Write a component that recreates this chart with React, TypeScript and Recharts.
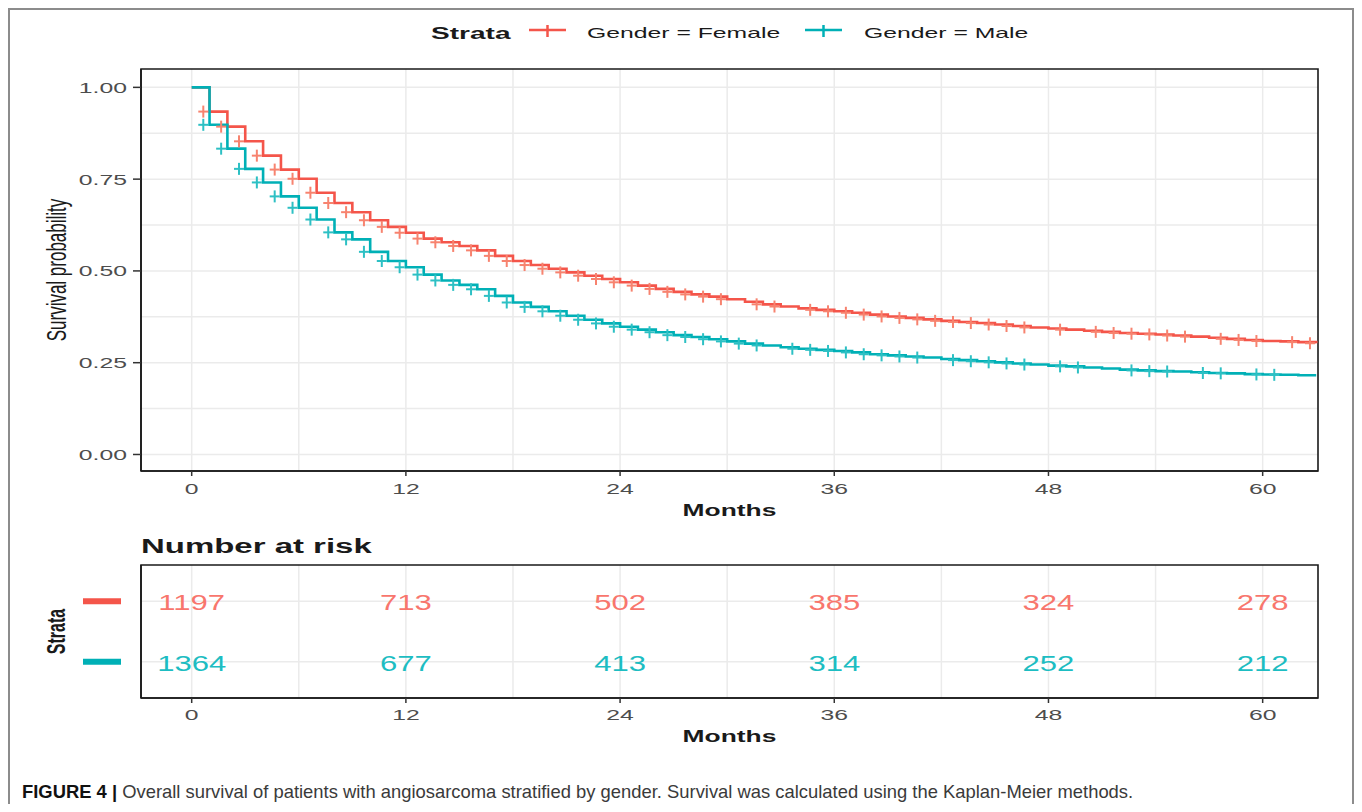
import React from 'react';
import { ComposedChart, Line, Scatter, XAxis, YAxis, CartesianGrid, ReferenceArea } from 'recharts';

// survival probability at the start of each month (0..63)
const femaleSurv = [
  1.0, 0.934, 0.893, 0.853, 0.814, 0.776, 0.751, 0.713, 0.685, 0.66, 0.638, 0.62, 0.604, 0.588, 0.578, 0.568,
  0.556, 0.541, 0.527, 0.516, 0.506, 0.496, 0.487, 0.478, 0.469, 0.46, 0.451, 0.443, 0.436, 0.43, 0.423, 0.416,
  0.409, 0.403, 0.398, 0.394, 0.39, 0.386, 0.381, 0.376, 0.372, 0.368, 0.364, 0.361, 0.358, 0.354, 0.35, 0.346,
  0.343, 0.34, 0.337, 0.334, 0.331, 0.329, 0.327, 0.324, 0.321, 0.318, 0.315, 0.312, 0.309, 0.308, 0.306, 0.303,
];
const maleSurv = [
  1.0, 0.898, 0.833, 0.778, 0.741, 0.703, 0.672, 0.64, 0.605, 0.586, 0.552, 0.527, 0.51, 0.49, 0.474, 0.462,
  0.45, 0.432, 0.414, 0.402, 0.39, 0.378, 0.367, 0.357, 0.348, 0.34, 0.333, 0.325, 0.32, 0.314, 0.308, 0.302,
  0.297, 0.292, 0.288, 0.285, 0.282, 0.278, 0.273, 0.27, 0.267, 0.264, 0.26, 0.257, 0.254, 0.251, 0.248, 0.245,
  0.242, 0.24, 0.237, 0.234, 0.231, 0.229, 0.227, 0.226, 0.224, 0.222, 0.221, 0.219, 0.218, 0.217, 0.216, 0.216,
];

// months that carry a censor mark
const femaleCensorMonths = [
  1, 2, 3, 4, 5, 6, 7, 8, 9, 10, 11, 12, 13, 14, 15, 16, 17, 18, 19, 20, 21, 22, 23, 24, 25, 26, 27, 28, 29, 30,
  32, 33, 35, 36, 37, 38, 39, 40, 41, 42, 43, 44, 45, 46, 47, 49, 51, 52, 53, 54, 55, 56, 58, 59, 60, 62, 63,
];
const maleCensorMonths = [
  1, 2, 3, 4, 5, 6, 7, 8, 9, 10, 11, 12, 13, 14, 15, 16, 17, 18, 19, 20, 21, 22, 23, 24, 25, 26, 27, 28, 29, 30,
  31, 32, 34, 35, 36, 37, 38, 39, 40, 41, 43, 44, 45, 46, 47, 49, 50, 53, 54, 55, 57, 58, 60, 61,
];

const riskTimes = [0, 12, 24, 36, 48, 60];
const femaleRisk = [1197, 713, 502, 385, 324, 278];
const maleRisk = [1364, 677, 413, 314, 252, 212];

const xTicks = [0, 12, 24, 36, 48, 60];
const xGrid = [0, 6, 12, 18, 24, 30, 36, 42, 48, 54, 60];
const yTicks = [0, 0.25, 0.5, 0.75, 1];
const yGrid = [0, 0.125, 0.25, 0.375, 0.5, 0.625, 0.75, 0.875, 1];
const strataLabels = ['Gender = Female', 'Gender = Male'];

const X_MIN = -2.84;
const X_MAX = 63.1;
const Y_MIN = -0.045;
const Y_MAX = 1.05;
const CENSOR_LEAD = 0.35;

const RED = '#F4554A';
const TEAL = '#00B0B6';
const RED_MARK = '#F7836F';
const TEAL_MARK = '#2DC0C4';
const RED_TEXT = '#F8766D';
const TEAL_TEXT = '#1DBDC2';
const GRID = '#EBEBEB';
const DARK = '#1a1a1a';
const FONT = "'Liberation Sans', Arial, sans-serif";
const SX = 1.65; // the original figure is stretched sideways

const curveData = femaleSurv.map((s, i) => ({ t: i, female: s, male: maleSurv[i] }));
const femaleCensor = femaleCensorMonths.map((m) => ({ t: m - CENSOR_LEAD, s: femaleSurv[m] }));
const maleCensor = maleCensorMonths.map((m) => ({ t: m - CENSOR_LEAD, s: maleSurv[m] }));
const femaleRiskData = riskTimes.map((t, i) => ({ t, row: 2, n: femaleRisk[i] }));
const maleRiskData = riskTimes.map((t, i) => ({ t, row: 1, n: maleRisk[i] }));

const StretchText = ({ x, y, size, weight = 'normal', fill = DARK, anchor = 'start', sx = SX, children }: any) => (
  <g transform={`translate(${x},${y}) scale(${sx},1)`}>
    <text x={0} y={0} fontSize={size} fontWeight={weight} fill={fill} textAnchor={anchor} fontFamily={FONT}>
      {children}
    </text>
  </g>
);

const XTick = ({ x, y, payload, shift }: any) => (
  <StretchText x={x} y={y + shift} size={15} fill="#4d4d4d" anchor="middle">
    {payload.value}
  </StretchText>
);

const YTick = ({ x, y, payload }: any) => (
  <StretchText x={x} y={y + 5.5} size={15} fill="#4d4d4d" anchor="end">
    {Number(payload.value).toFixed(2)}
  </StretchText>
);

const StrataTick = ({ x, y, payload }: any) => (
  <line x1={x - 58} x2={x - 20} y1={y} y2={y} stroke={payload.value === 2 ? RED : TEAL} strokeWidth={6} />
);

const XTitle = ({ viewBox, text, shift }: any) => (
  <StretchText x={viewBox.x + viewBox.width / 2} y={viewBox.y + shift} size={16} weight="bold" anchor="middle">
    {text}
  </StretchText>
);

const YTitle = ({ viewBox, text, shift, size, weight }: any) => (
  <g transform={`translate(${viewBox.x + shift},${viewBox.y + viewBox.height / 2}) scale(${SX},1) rotate(-90)`}>
    <text x={0} y={0} dy="0.35em" textAnchor="middle" fontSize={size} fontWeight={weight} fill={DARK} fontFamily={FONT}>
      {text}
    </text>
  </g>
);

const plusShape = (color: string) => (props: any) => {
  const { cx, cy } = props;
  return (
    <g stroke={color} strokeWidth={2}>
      <line x1={cx - 5} x2={cx + 5} y1={cy} y2={cy} />
      <line x1={cx} x2={cx} y1={cy - 6} y2={cy + 6} />
    </g>
  );
};

const riskShape = (color: string) => (props: any) => (
  <StretchText x={props.cx} y={props.cy + 9} size={22.5} sx={1.38} fill={color} anchor="middle">
    {props.payload.n}
  </StretchText>
);

const LegendKey = ({ x, y, color }: any) => (
  <g stroke={color} strokeWidth={2.5}>
    <line x1={x} x2={x + 37} y1={y} y2={y} />
    <line x1={x + 18.5} x2={x + 18.5} y1={y - 5} y2={y + 7} />
  </g>
);

const SurvivalPlot = () => (
  <ComposedChart width={1362} height={530} data={curveData} margin={{ top: 69, right: 44, bottom: 9, left: 41 }}>
    <CartesianGrid verticalValues={xGrid} horizontalValues={yGrid} stroke={GRID} strokeWidth={1.5} />
    <ReferenceArea x1={X_MIN} x2={X_MAX} y1={Y_MIN} y2={Y_MAX} fill="none" stroke={DARK} strokeWidth={1.6} ifOverflow="visible" />
    <XAxis
      dataKey="t"
      type="number"
      domain={[X_MIN, X_MAX]}
      allowDataOverflow
      ticks={xTicks}
      height={50}
      tickSize={5}
      tickMargin={2}
      axisLine={{ stroke: DARK, strokeWidth: 1.6 }}
      tickLine={{ stroke: '#333', strokeWidth: 1.5 }}
      tick={<XTick shift={16} />}
      label={<XTitle text="Months" shift={45} />}
    />
    <YAxis
      type="number"
      domain={[Y_MIN, Y_MAX]}
      allowDataOverflow
      ticks={yTicks}
      width={100}
      tickSize={8}
      tickMargin={6}
      axisLine={{ stroke: DARK, strokeWidth: 1.6 }}
      tickLine={{ stroke: '#333', strokeWidth: 1.5 }}
      tick={<YTick />}
      label={<YTitle text="Survival probability" shift={15.5} size={17} weight="normal" />}
    />
    <Line type="stepAfter" dataKey="female" name={strataLabels[0]} stroke={RED} strokeWidth={2.6} dot={false} activeDot={false} isAnimationActive={false} />
    <Line type="stepAfter" dataKey="male" name={strataLabels[1]} stroke={TEAL} strokeWidth={2.6} dot={false} activeDot={false} isAnimationActive={false} />
    <Scatter data={femaleCensor} dataKey="s" shape={plusShape(RED_MARK)} isAnimationActive={false} />
    <Scatter data={maleCensor} dataKey="s" shape={plusShape(TEAL_MARK)} isAnimationActive={false} />
  </ComposedChart>
);

const RiskTable = () => (
  <ComposedChart width={1362} height={240} margin={{ top: 45, right: 44, bottom: 12, left: 41 }}>
    <CartesianGrid verticalValues={xGrid} horizontalValues={[1, 2]} stroke={GRID} strokeWidth={1.5} />
    <ReferenceArea x1={X_MIN} x2={X_MAX} y1={0.4} y2={2.6} fill="none" stroke={DARK} strokeWidth={1.6} ifOverflow="visible" />
    <XAxis
      dataKey="t"
      type="number"
      domain={[X_MIN, X_MAX]}
      allowDataOverflow
      ticks={xTicks}
      height={50}
      tickSize={5}
      tickMargin={2}
      axisLine={{ stroke: DARK, strokeWidth: 1.6 }}
      tickLine={{ stroke: '#333', strokeWidth: 1.5 }}
      tick={<XTick shift={14.5} />}
      label={<XTitle text="Months" shift={44} />}
    />
    <YAxis
      type="number"
      domain={[0.4, 2.6]}
      allowDataOverflow
      ticks={[1, 2]}
      width={100}
      tickSize={0}
      tickMargin={0}
      axisLine={{ stroke: DARK, strokeWidth: 1.6 }}
      tickLine={false}
      tick={<StrataTick />}
      label={<YTitle text="Strata" shift={15} size={16} weight="bold" />}
    />
    <Scatter data={femaleRiskData} dataKey="row" shape={riskShape(RED_TEXT)} isAnimationActive={false} />
    <Scatter data={maleRiskData} dataKey="row" shape={riskShape(TEAL_TEXT)} isAnimationActive={false} />
  </ComposedChart>
);

const Overlay = () => (
  <svg width={1362} height={812} style={{ position: 'absolute', left: 0, top: 0, pointerEvents: 'none' }}>
    <StretchText x={431} y={38.5} size={17} weight="bold">Strata</StretchText>
    <LegendKey x={529} y={30} color={RED} />
    <StretchText x={587} y={37.5} size={15}>{strataLabels[0]}</StretchText>
    <LegendKey x={805} y={30} color={TEAL} />
    <StretchText x={864} y={37.5} size={15}>{strataLabels[1]}</StretchText>
    <StretchText x={141} y={553} size={21} sx={1.57} weight="bold">Number at risk</StretchText>
    <text x={22} y={798} fontSize={18.4} fontFamily={FONT} fill="#3a3a3a">
      <tspan fontWeight="bold" fill="#111">FIGURE 4 | </tspan>
      Overall survival of patients with angiosarcoma stratified by gender. Survival was calculated using the Kaplan-Meier methods.
    </text>
  </svg>
);

export default function App() {
  return (
    <div
      style={{
        position: 'relative',
        width: 1346,
        height: 796,
        boxSizing: 'border-box',
        borderTop: '2px solid #8c8c8c',
        borderLeft: '2px solid #8c8c8c',
        borderRight: '2px solid #8c8c8c',
        overflow: 'hidden',
        background: '#fff',
      }}
    >
      <div style={{ position: 'absolute', left: -10, top: -10, width: 1362, height: 812 }}>
        <div style={{ position: 'absolute', left: 0, top: 0 }}>
          <SurvivalPlot />
        </div>
        <div style={{ position: 'absolute', left: 0, top: 520 }}>
          <RiskTable />
        </div>
        <Overlay />
      </div>
    </div>
  );
}
